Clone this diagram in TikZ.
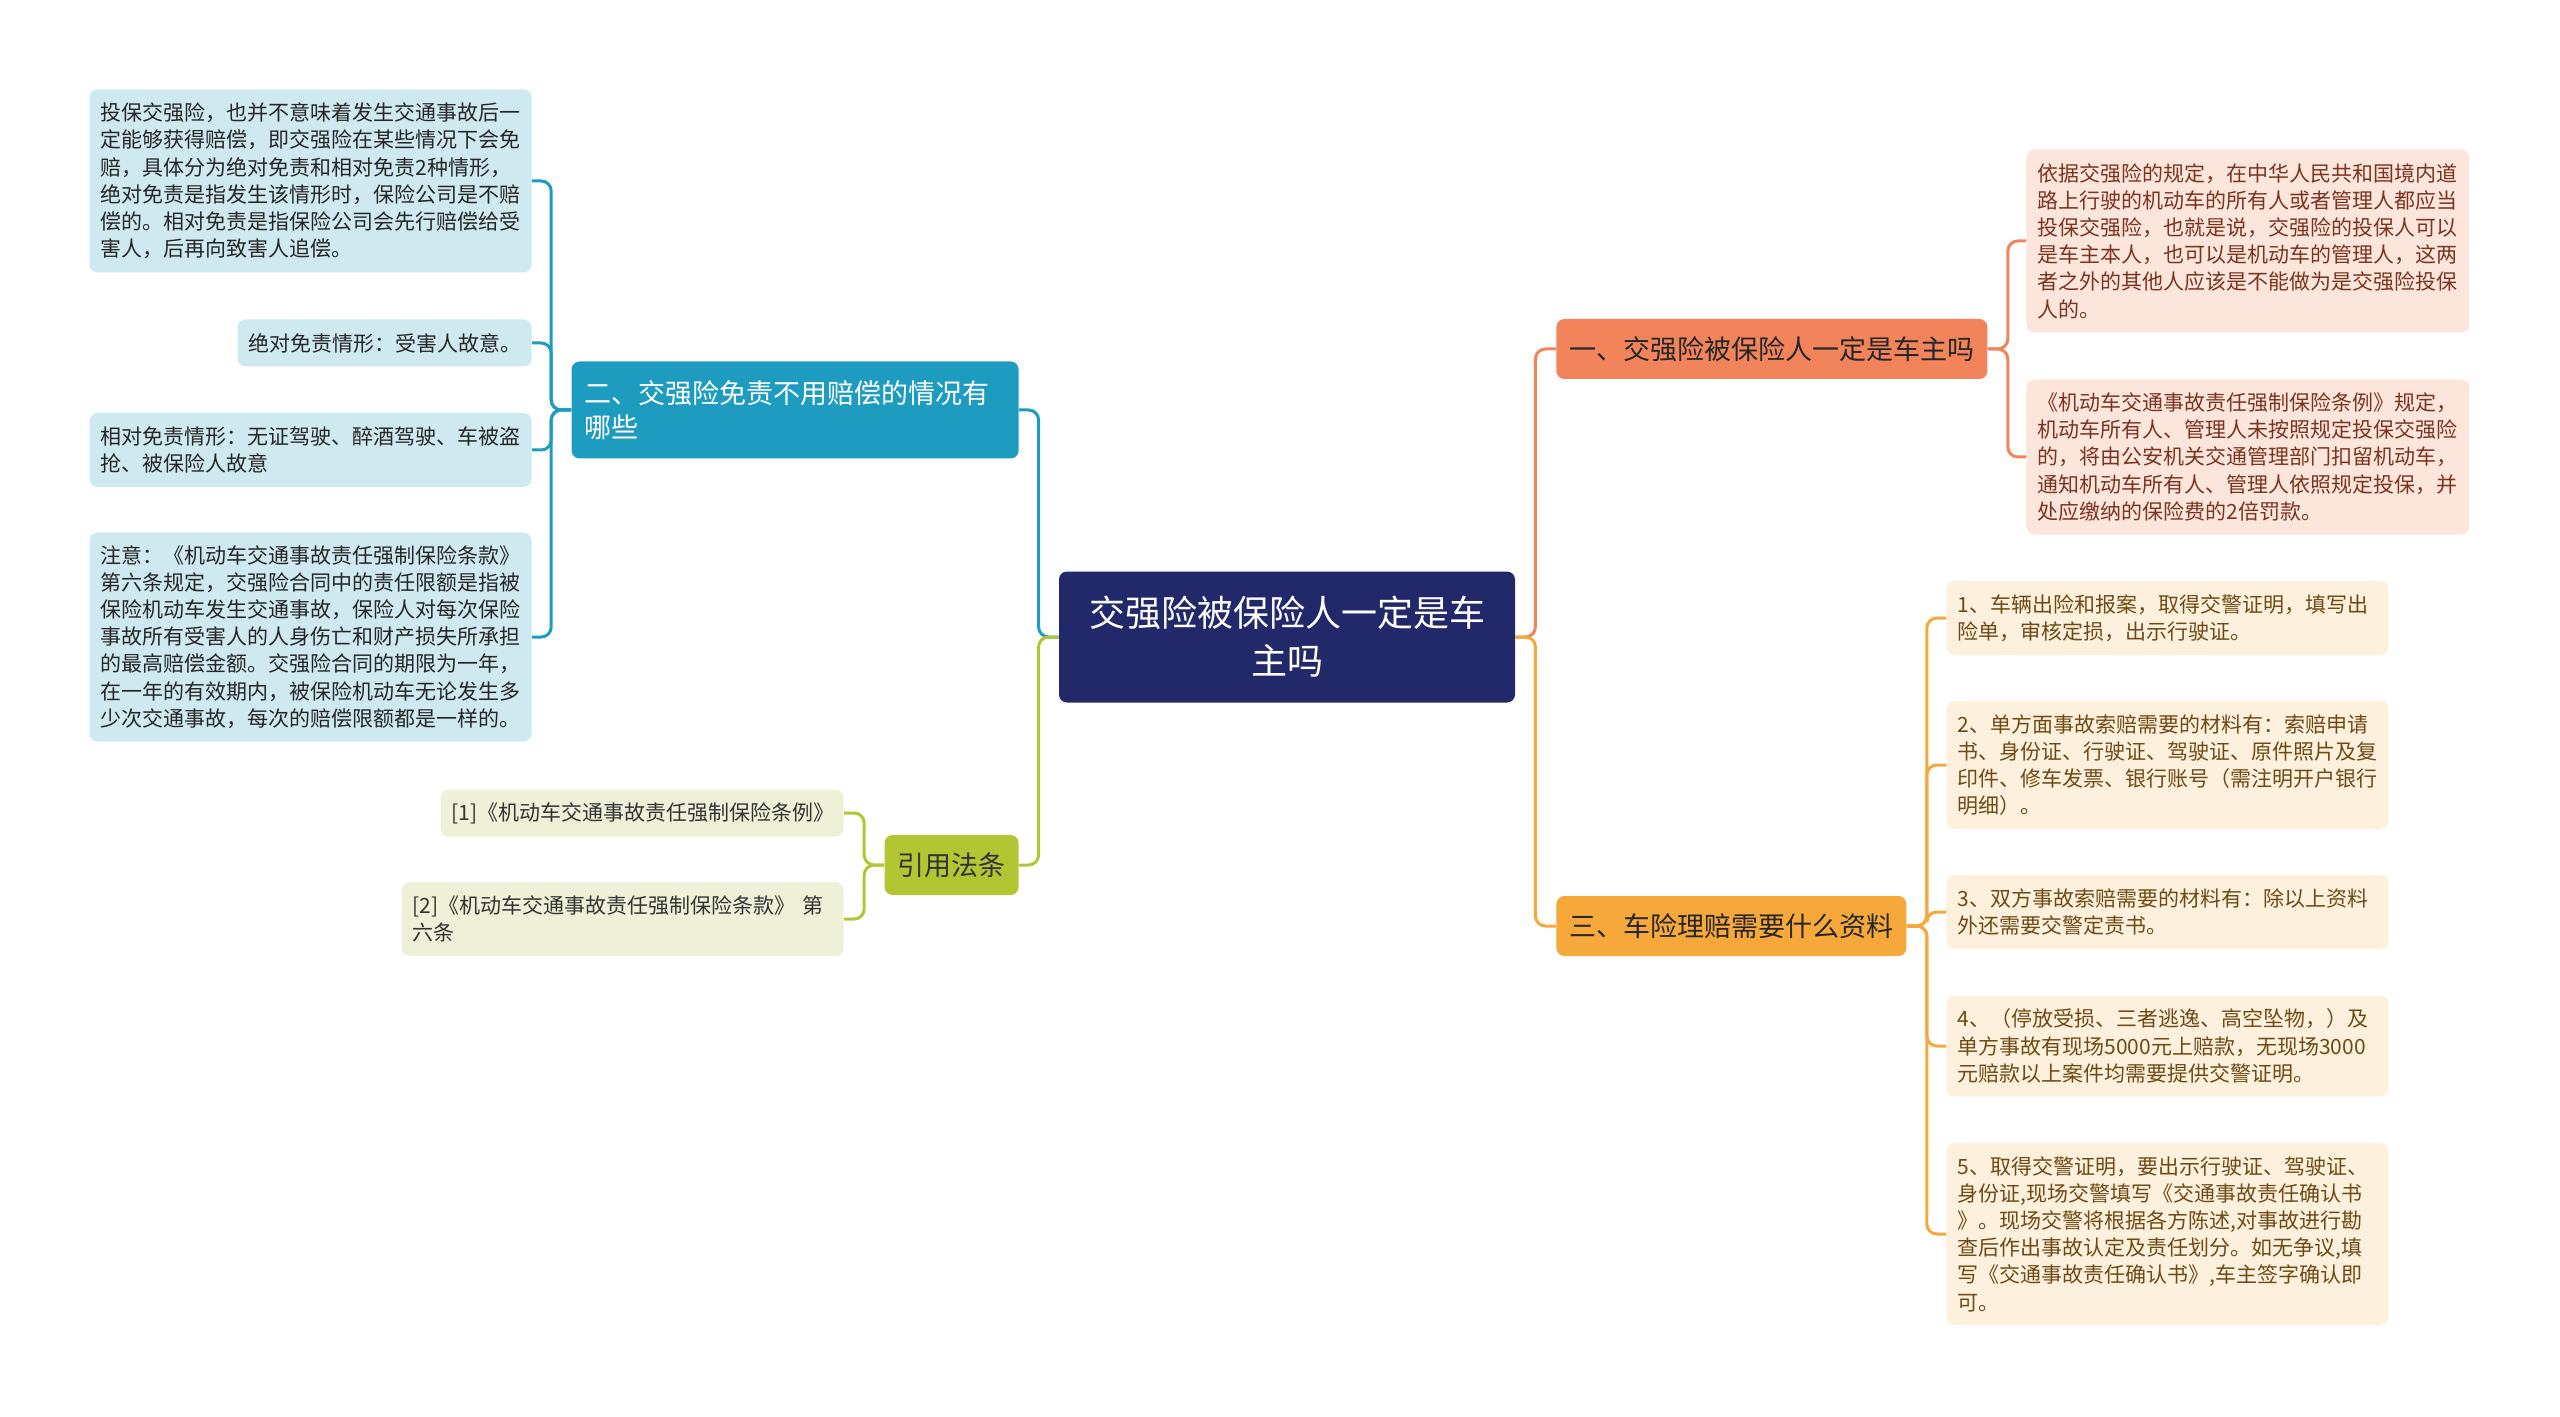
\documentclass[tikz,border=0pt]{standalone}
\usepackage{fontspec}
\usepackage{xcolor}
\usepackage{tikz}
\newfontfamily\cjk{Noto Sans CJK SC}
\definecolor{rootnavy}{RGB}{34,41,106}
\definecolor{teal}{RGB}{29,156,191}
\definecolor{tealpale}{RGB}{207,233,241}
\definecolor{olive}{RGB}{178,198,52}
\definecolor{olivepale}{RGB}{238,241,216}
\definecolor{coral}{RGB}{242,132,92}
\definecolor{coralpale}{RGB}{252,229,219}
\definecolor{coraltext}{RGB}{122,52,32}
\definecolor{amber}{RGB}{246,168,59}
\definecolor{amberpale}{RGB}{253,240,220}
\definecolor{ambertext}{RGB}{110,74,22}

\begin{document}
\begin{tikzpicture}[x=0.5pt,y=-0.5pt,
    card/.style={rounded corners=4pt,inner ysep=2pt},
    leaf/.style={card,font=\cjk\fontsize{10.5pt}{13.6pt}\selectfont,inner xsep=5.5pt,align=left},
    branch/.style={card,font=\cjk\fontsize{13.5pt}{17pt}\selectfont,inner xsep=6.5pt,align=left,minimum height=30pt},
    link/.style={line width=1.5pt,rounded corners=5pt}]
    \useasboundingbox (0,0) rectangle (2560,1417);

    \node[card,fill=rootnavy,text=white,font=\cjk\fontsize{18pt}{24pt}\selectfont,align=center,
        minimum width=228pt,minimum height=65.5pt] (root) at (1287,637) {交强险被保险人一定是车\\主吗};

    \node[branch,fill=teal,text=white,text width=210.5pt,minimum height=48.5pt,anchor=east] (excl) at (1019,410)
        {二、交强险免责不用赔偿的情况有\\哪些};
    \node[branch,fill=olive,text=black!80,anchor=east] (laws) at (1019,865) {引用法条};
    \node[branch,fill=coral,text=black!85,anchor=west] (owner) at (1556,349) {一、交强险被保险人一定是车主吗};
    \node[branch,fill=amber,text=black!85,anchor=west] (claim) at (1556,926) {三、车险理赔需要什么资料};

    \node[leaf,fill=tealpale,text=black!85,text width=210pt,minimum height=91.5pt,anchor=east] (exclA) at (532,181)
        {投保交强险，也并不意味着发生交通事故后一\\定能够获得赔偿，即交强险在某些情况下会免\\赔，具体分为绝对免责和相对免责2种情形，\\绝对免责是指发生该情形时，保险公司是不赔\\偿的。相对免责是指保险公司会先行赔偿给受\\害人，后再向致害人追偿。};
    \node[leaf,fill=tealpale,text=black!85,text width=136pt,minimum height=23.5pt,anchor=east] (exclB) at (532,343)
        {绝对免责情形：受害人故意。};
    \node[leaf,fill=tealpale,text=black!85,text width=210pt,minimum height=37pt,anchor=east] (exclC) at (532,450)
        {相对免责情形：无证驾驶、醉酒驾驶、车被盗\\抢、被保险人故意};
    \node[leaf,fill=tealpale,text=black!85,text width=210pt,minimum height=104.5pt,anchor=east] (exclD) at (532,637)
        {注意：《机动车交通事故责任强制保险条款》\\第六条规定，交强险合同中的责任限额是指被\\保险机动车发生交通事故，保险人对每次保险\\事故所有受害人的人身伤亡和财产损失所承担\\的最高赔偿金额。交强险合同的期限为一年，\\在一年的有效期内，被保险机动车无论发生多\\少次交通事故，每次的赔偿限额都是一样的。};

    \node[leaf,fill=olivepale,text=black!80,text width=190.5pt,minimum height=23.5pt,anchor=east] (lawA) at (844,813)
        {[1]《机动车交通事故责任强制保险条例》};
    \node[leaf,fill=olivepale,text=black!80,text width=210pt,minimum height=37pt,anchor=east] (lawB) at (844,919)
        {[2]《机动车交通事故责任强制保险条款》 第\\六条};

    \node[leaf,fill=coralpale,text=coraltext,text width=210.5pt,minimum height=91.5pt,anchor=west] (ownerA) at (2026,241)
        {依据交强险的规定，在中华人民共和国境内道\\路上行驶的机动车的所有人或者管理人都应当\\投保交强险，也就是说，交强险的投保人可以\\是车主本人，也可以是机动车的管理人，这两\\者之外的其他人应该是不能做为是交强险投保\\人的。};
    \node[leaf,fill=coralpale,text=coraltext,text width=210.5pt,minimum height=77.5pt,anchor=west] (ownerB) at (2026,457)
        {《机动车交通事故责任强制保险条例》规定，\\机动车所有人、管理人未按照规定投保交强险\\的，将由公安机关交通管理部门扣留机动车，\\通知机动车所有人、管理人依照规定投保，并\\处应缴纳的保险费的2倍罚款。};

    \node[leaf,fill=amberpale,text=ambertext,text width=210pt,minimum height=37pt,anchor=west] (claimA) at (1946,618)
        {1、车辆出险和报案，取得交警证明，填写出\\险单，审核定损，出示行驶证。};
    \node[leaf,fill=amberpale,text=ambertext,text width=210pt,minimum height=64pt,anchor=west] (claimB) at (1946,765)
        {2、单方面事故索赔需要的材料有：索赔申请\\书、身份证、行驶证、驾驶证、原件照片及复\\印件、修车发票、银行账号（需注明开户银行\\明细）。};
    \node[leaf,fill=amberpale,text=ambertext,text width=210pt,minimum height=37pt,anchor=west] (claimC) at (1946,912)
        {3、双方事故索赔需要的材料有：除以上资料\\外还需要交警定责书。};
    \node[leaf,fill=amberpale,text=ambertext,text width=210pt,minimum height=50.5pt,anchor=west] (claimD) at (1946,1046)
        {4、（停放受损、三者逃逸、高空坠物，）及\\单方事故有现场5000元上赔款，无现场3000\\元赔款以上案件均需要提供交警证明。};
    \node[leaf,fill=amberpale,text=ambertext,text width=210pt,minimum height=91pt,anchor=west] (claimE) at (1946,1234)
        {5、取得交警证明，要出示行驶证、驾驶证、\\身份证,现场交警填写《交通事故责任确认书\\》。现场交警将根据各方陈述,对事故进行勘\\查后作出事故认定及责任划分。如无争议,填\\写《交通事故责任确认书》,车主签字确认即\\可。};

    \draw[link,teal] (root.west) -- ++(-20,0) |- (excl.east);
    \draw[link,olive] (root.west) -- ++(-20,0) |- (laws.east);
    \draw[link,coral] (root.east) -- ++(20,0) |- (owner.west);
    \draw[link,amber] (root.east) -- ++(20,0) |- (claim.west);

    \draw[link,teal] (excl.west) -- ++(-20,0) |- (exclA.east);
    \draw[link,teal] (excl.west) -- ++(-20,0) |- (exclB.east);
    \draw[link,teal] (excl.west) -- ++(-20,0) |- (exclC.east);
    \draw[link,teal] (excl.west) -- ++(-20,0) |- (exclD.east);

    \draw[link,olive] (laws.west) -- ++(-20,0) |- (lawA.east);
    \draw[link,olive] (laws.west) -- ++(-20,0) |- (lawB.east);

    \draw[link,coral] (owner.east) -- ++(20,0) |- (ownerA.west);
    \draw[link,coral] (owner.east) -- ++(20,0) |- (ownerB.west);

    \draw[link,amber] (claim.east) -- ++(20,0) |- (claimA.west);
    \draw[link,amber] (claim.east) -- ++(20,0) |- (claimB.west);
    \draw[link,amber] (claim.east) -- ++(20,0) |- (claimC.west);
    \draw[link,amber] (claim.east) -- ++(20,0) |- (claimD.west);
    \draw[link,amber] (claim.east) -- ++(20,0) |- (claimE.west);
\end{tikzpicture}
\end{document}
